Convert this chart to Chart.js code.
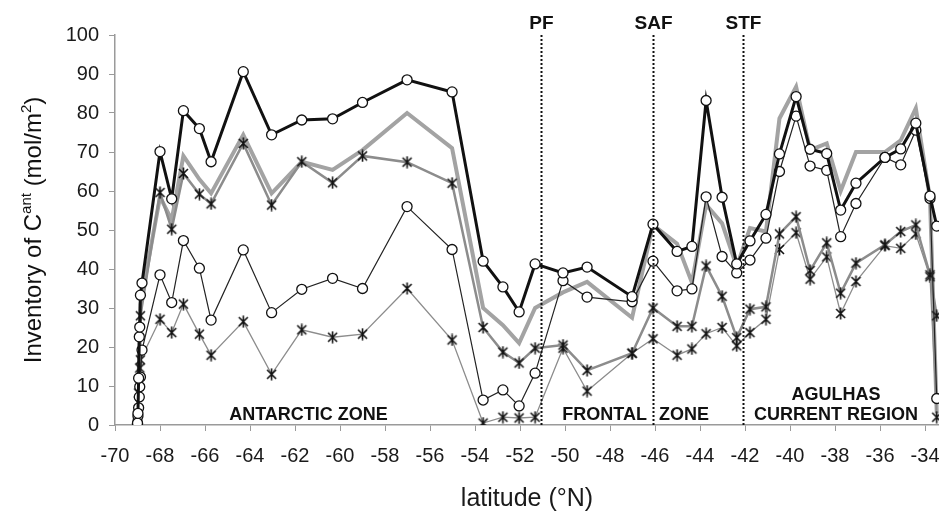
<!DOCTYPE html>
<html>
<head>
<meta charset="utf-8">
<script src="https://cdn.jsdelivr.net/npm/chart.js@4/dist/chart.umd.min.js"></script>
<style>
    html, body { margin: 0; padding: 0; background: #fff; }
    #wrap { width: 939px; height: 518px; position: relative; }
</style>
</head>
<body>
<div id="wrap"><canvas id="myChart"></canvas></div>
<script>
// station latitudes (°N)
const lat = [-68.0, -67.48, -66.96, -66.25, -65.73, -64.3, -63.04, -61.7, -60.33, -59.0,
    -57.02, -55.02, -53.64, -52.76, -52.04, -51.33, -50.09, -49.02, -47.02, -46.09,
    -45.02, -44.36, -43.73, -43.02, -42.37, -41.78, -41.07, -40.47, -39.73, -39.11,
    -38.37, -37.75, -37.07, -35.78, -35.08, -34.41, -33.78, -33.48];

const blackThick = [70.1, 58, 80.6, 76, 67.5, 90.6, 74.4, 78.2, 78.5, 82.7,
    88.5, 85.4, 42, 35.4, 29, 41.3, 39, 40.5, 32.9, 51.5,
    44.5, 45.8, 83.2, 58.4, 41.3, 47.2, 54, 69.5, 84.2, 70.7,
    69.6, 55.1, 62, 68.6, 70.8, 77.4, 58.7, 51];
const grayThick = [58.5, 52.6, 69, 63, 59.4, 74.4, 59.4, 67.5, 65.4, 70.5,
    80, 71, 30, 25.6, 21, 30, 34, 36.7, 27.5, 51.3,
    46.5, 36.5, 56.5, 51.7, 40.6, 50.5, 49.6, 78.6, 86.7, 70.5,
    72.2, 60, 70, 70, 73, 81.2, 58, 3];
const grayStar = [59.6, 50.2, 64.5, 59.2, 56.7, 72.2, 56.4, 67.5, 62.1, 69,
    67.4, 62, 25, 18.7, 15.9, 19.7, 20.5, 14, 18.4, 30,
    25.3, 25.3, 40.8, 33, 22.4, 29.7, 30.3, 49, 53.4, 39.6,
    46.7, 33.8, 41.5, 46.2, 49.6, 51.3, 38.5, 28];
const blackThin = [38.5, 31.4, 47.3, 40.2, 26.9, 44.9, 28.8, 34.8, 37.6, 35,
    56, 45, 6.4, 9, 4.9, 13.3, 37, 32.8, 31.6, 42,
    34.4, 34.9, 58.5, 43.2, 39, 42.3, 47.9, 65, 79.2, 66.4,
    65.3, 48.3, 56.8, 68.6, 66.7, 75.6, 58.1, 6.8];
const grayThinStar = [27.1, 23.7, 31, 23.3, 17.9, 26.5, 13, 24.4, 22.5, 23.3,
    35, 21.8, 0.5, 2, 1.8, 2, 19.7, 8.7, 18.4, 22.1,
    17.9, 19.5, 23.4, 25, 20.3, 23.7, 27.1, 45, 49.3, 37.4,
    43.1, 28.6, 36.8, 46, 45.3, 49, 38, 2];

// coastal stations near -69
const coastLat = [-69.0, -68.98, -68.95, -68.92, -68.9, -68.87, -68.8];
const coastBlackThick = [0.5, 3, 12, 22.6, 25.1, 33.3, 36.4];
const coastGrayThick = [0.5, null, null, null, null, 31, null];
const coastGrayStar = [0.5, null, null, null, 14.6, 28, null];
const coastBlackThin = [0.3, 2.3, 4.4, 7.2, 9.8, 12.3, 19.2];
const coastGrayThinStar = [0.3, null, 8.2, null, null, 16.7, null];

const fronts = [['PF', -51.07], ['SAF', -46.09], ['STF', -42.1]];
// zone names: [text, latitude, baseline, align]
const zoneNames = [
    ['ANTARCTIC ZONE', -61.4, 420, 'center'],
    ['FRONTAL', -46.36, 420, 'right'],
    ['ZONE', -45.82, 420, 'left'],
    ['AGULHAS', -37.96, 400, 'center'],
    ['CURRENT REGION', -37.96, 420, 'center']
];

const fontFamily = "'Liberation Sans', Arial, sans-serif";

function points(coast, vals) {
    let pts = coastLat.map((x, i) => ({ x: x, y: coast[i] }));
    return pts.concat(lat.map((x, i) => ({ x: x, y: vals[i] })));
}

// asterisk marker: X plus vertical bar
function makeStar() {
    let c = document.createElement('canvas');
    c.width = 13;
    c.height = 13;
    let g = c.getContext('2d');
    g.strokeStyle = '#111';
    g.lineWidth = 1.6;
    g.beginPath();
    g.moveTo(2, 2); g.lineTo(11, 11);
    g.moveTo(11, 2); g.lineTo(2, 11);
    g.moveTo(6.5, 0.5); g.lineTo(6.5, 12.5);
    g.stroke();
    return c;
}
const starImg = makeStar();

const overlayPlugin = {
    id: 'overlay',
    afterDatasetsDraw(chart) {
        const ctx = chart.ctx;
        const xs = chart.scales.x;
        const area = chart.chartArea;
        ctx.save();
        // fronts
        fronts.forEach(f => {
            let px = Math.round(xs.getPixelForValue(f[1])) + 0.5;
            ctx.strokeStyle = '#111';
            ctx.lineWidth = 2;
            ctx.setLineDash([2, 2]);
            ctx.beginPath();
            ctx.moveTo(px, area.top);
            ctx.lineTo(px, area.bottom);
            ctx.stroke();
            ctx.setLineDash([]);
            ctx.fillStyle = '#111';
            ctx.font = 'bold 19px ' + fontFamily;
            ctx.textAlign = 'center';
            ctx.textBaseline = 'alphabetic';
            ctx.fillText(f[0], px, 29);
        });
        // zone names
        ctx.font = 'bold 18px ' + fontFamily;
        ctx.fillStyle = '#111';
        zoneNames.forEach(z => {
            ctx.textAlign = z[3];
            ctx.fillText(z[0], xs.getPixelForValue(z[1]), z[2]);
        });
        // y title with superscripts
        const parts = [['Inventory of C', 0], ['ant', 1], [' (mol/m', 0], ['2', 1], [')', 0]];
        const big = '24px ' + fontFamily;
        const small = '15px ' + fontFamily;
        let total = 0;
        parts.forEach(p => {
            ctx.font = p[1] ? small : big;
            total += ctx.measureText(p[0]).width;
        });
        ctx.translate(41, (area.top + area.bottom) / 2);
        ctx.rotate(-Math.PI / 2);
        ctx.textAlign = 'left';
        ctx.textBaseline = 'alphabetic';
        let cx = -total / 2;
        parts.forEach(p => {
            ctx.font = p[1] ? small : big;
            ctx.fillText(p[0], cx, p[1] ? -10 : 0);
            cx += ctx.measureText(p[0]).width;
        });
        ctx.restore();
    }
};

let ctx = document.getElementById('myChart').getContext('2d');
let myChart = new Chart(ctx, {
    type: 'line',
    data: {
        datasets: [
            {
                label: 'black thick',
                data: points(coastBlackThick, blackThick),
                borderColor: '#111',
                borderWidth: 3,
                pointStyle: 'circle',
                pointRadius: 5,
                pointBackgroundColor: '#fff',
                pointBorderColor: '#111',
                pointBorderWidth: 1.3,
                order: 1
            },
            {
                label: 'gray thick',
                data: points(coastGrayThick, grayThick),
                borderColor: '#a3a3a3',
                borderWidth: 4,
                pointRadius: 0,
                order: 6
            },
            {
                label: 'gray star',
                data: points(coastGrayStar, grayStar),
                borderColor: '#8c8c8c',
                borderWidth: 2.5,
                pointStyle: starImg,
                pointRadius: 6,
                order: 4
            },
            {
                label: 'black thin',
                data: points(coastBlackThin, blackThin),
                borderColor: '#222',
                borderWidth: 1.2,
                pointStyle: 'circle',
                pointRadius: 5,
                pointBackgroundColor: '#fff',
                pointBorderColor: '#111',
                pointBorderWidth: 1.3,
                order: 2
            },
            {
                label: 'gray thin star',
                data: points(coastGrayThinStar, grayThinStar),
                borderColor: '#8c8c8c',
                borderWidth: 1.3,
                pointStyle: starImg,
                pointRadius: 6,
                order: 5
            }
        ]
    },
    options: {
        responsive: true,
        maintainAspectRatio: false,
        animation: false,
        spanGaps: true,
        layout: { autoPadding: false, padding: { top: 35, right: 0, left: 0, bottom: 0 } },
        plugins: {
            legend: { display: false },
            tooltip: { enabled: false }
        },
        scales: {
            x: {
                type: 'linear',
                min: -70,
                max: -33.38,
                border: { color: '#9a9a9a', width: 1.5 },
                grid: { drawOnChartArea: false, color: '#9a9a9a', tickLength: 6, lineWidth: 1 },
                ticks: {
                    stepSize: 2,
                    includeBounds: false,
                    autoSkip: false,
                    maxRotation: 0,
                    padding: 13,
                    color: '#1a1a1a',
                    font: { family: fontFamily, size: 20 }
                },
                title: {
                    display: true,
                    text: 'latitude (°N)',
                    color: '#1a1a1a',
                    font: { family: fontFamily, size: 25 },
                    padding: { top: 10, bottom: 4 }
                },
                afterFit(scale) {
                    scale.height = 93;
                    scale.paddingLeft = 0;
                    scale.paddingRight = 0;
                }
            },
            y: {
                min: 0,
                max: 100,
                border: { color: '#9a9a9a', width: 1.5 },
                grid: { drawOnChartArea: false, color: '#9a9a9a', tickLength: 6 },
                ticks: {
                    stepSize: 10,
                    padding: 10,
                    color: '#1a1a1a',
                    font: { family: fontFamily, size: 20 }
                },
                afterFit(scale) {
                    scale.width = 115;
                }
            }
        }
    },
    plugins: [overlayPlugin]
});
</script>
</body>
</html>
